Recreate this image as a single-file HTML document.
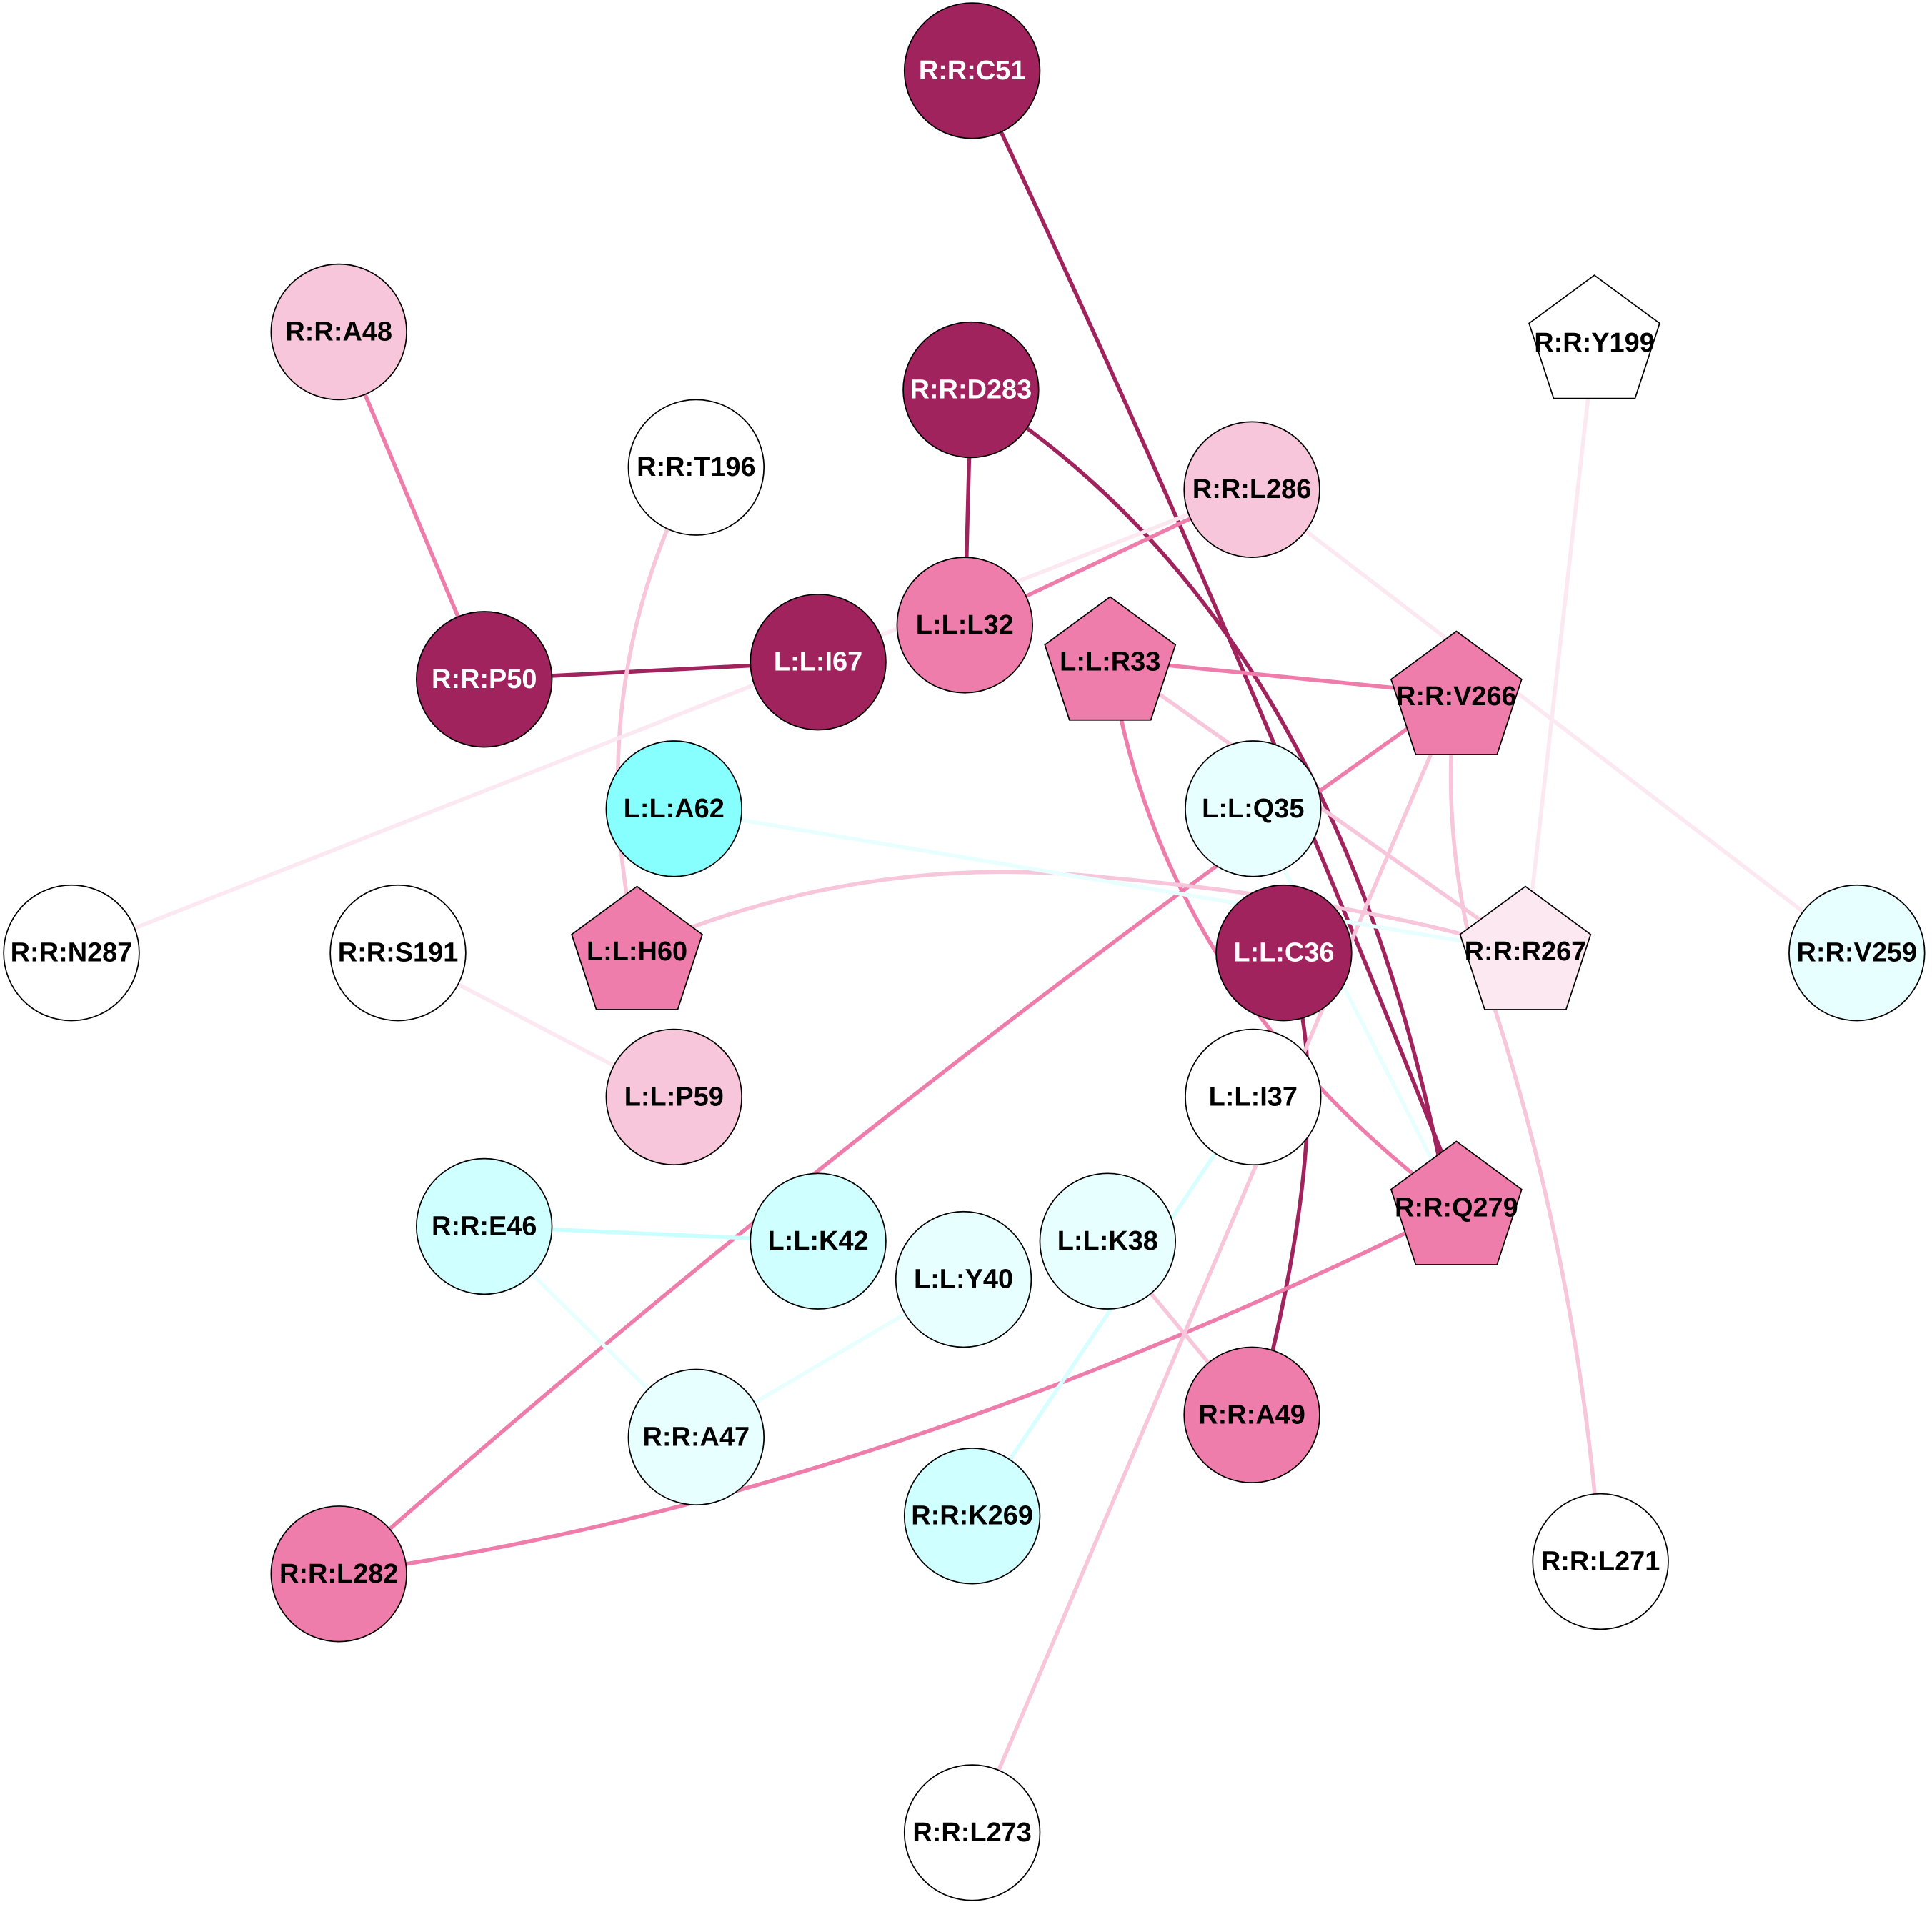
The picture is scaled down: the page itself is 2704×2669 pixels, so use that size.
<!DOCTYPE html>
<html><head><meta charset="utf-8">
<style>
html,body{margin:0;padding:0;background:#fff;}
svg{display:block;}
text{font-family:"Liberation Sans",Arial,sans-serif;font-weight:bold;font-size:22px;text-anchor:middle;dominant-baseline:central;}
</style></head><body>
<svg width="2704" height="2669" viewBox="0 0 1568 1547" xmlns="http://www.w3.org/2000/svg">
<g fill="none" stroke-width="3.2">
<path d="M789,57 Q990,480 1176,950" stroke="#A0235D"/>
<path d="M788,316 Q1080,500 1170,950" stroke="#A0235D"/>
<path d="M788,316 L783,507" stroke="#A0235D"/>
<path d="M393,551 L664,537" stroke="#A0235D"/>
<path d="M1042,773 Q1090,880 1020,1148" stroke="#A0235D"/>
<path d="M275,269 L393,551" stroke="#EF7DAC"/>
<path d="M1016,397 L783,507" stroke="#EF7DAC"/>
<path d="M901,535 L1182,563" stroke="#EF7DAC"/>
<path d="M901,535 Q940,800 1182,980" stroke="#EF7DAC"/>
<path d="M1182,563 Q700,900 275,1277" stroke="#EF7DAC"/>
<path d="M1182,980 Q700,1220 275,1277" stroke="#EF7DAC"/>
<path d="M1182,563 L789,1487" stroke="#F7C6DB"/>
<path d="M1182,563 Q1170,650 1190,750 Q1280,1000 1299,1267" stroke="#F7C6DB"/>
<path d="M901,535 L1238,772" stroke="#F7C6DB"/>
<path d="M517,770 Q700,690 900,712 Q1100,730 1238,772" stroke="#F7C6DB"/>
<path d="M565,379 Q470,560 517,770" stroke="#F7C6DB"/>
<path d="M1016,397 L58,773" stroke="#FBE8F0"/>
<path d="M1016,397 L1507,773" stroke="#FBE8F0"/>
<path d="M1294,278 L1238,772" stroke="#FBE8F0"/>
<path d="M323,773 L547,890" stroke="#FBE8F0"/>
<path d="M899,1007 L1016,1148" stroke="#F7C6DB"/>
<path d="M547,656 L1238,772" stroke="#E8FFFF"/>
<path d="M1017,656 L1182,980" stroke="#E8FFFF"/>
<path d="M393,995 L664,1007" stroke="#C8FFFF"/>
<path d="M393,995 L565,1166" stroke="#E8FFFF"/>
<path d="M782,1038 L565,1166" stroke="#E8FFFF"/>
<path d="M1017,890 L789,1230" stroke="#D8FFFF"/>
</g>
<g stroke="#000" stroke-width="1">
<circle cx="789" cy="57" r="55" fill="#A0235D"/>
<circle cx="275" cy="269" r="55" fill="#F7C6DB"/>
<polygon points="1294,223 1347,262 1327,323 1261,323 1241,262" fill="#fff"/>
<circle cx="788" cy="316" r="55" fill="#A0235D"/>
<circle cx="565" cy="379" r="55" fill="#fff"/>
<circle cx="1016" cy="397" r="55" fill="#F7C6DB"/>
<circle cx="783" cy="507" r="55" fill="#EF7DAC"/>
<circle cx="664" cy="537" r="55" fill="#A0235D"/>
<circle cx="393" cy="551" r="55" fill="#A0235D"/>
<polygon points="901,484 954,523 934,584 868,584 848,523" fill="#EF7DAC"/>
<polygon points="1182,512 1235,551 1215,612 1149,612 1129,551" fill="#EF7DAC"/>
<circle cx="547" cy="656" r="55" fill="#88FFFF"/>
<circle cx="1017" cy="656" r="55" fill="#E8FFFF"/>
<circle cx="58" cy="773" r="55" fill="#fff"/>
<circle cx="323" cy="773" r="55" fill="#fff"/>
<polygon points="517,719 570,758 550,819 484,819 464,758" fill="#EF7DAC"/>
<circle cx="1042" cy="773" r="55" fill="#A0235D"/>
<polygon points="1238,719 1291,758 1271,819 1205,819 1185,758" fill="#FBE8F0"/>
<circle cx="1507" cy="773" r="55" fill="#E8FFFF"/>
<circle cx="547" cy="890" r="55" fill="#F7C6DB"/>
<circle cx="1017" cy="890" r="55" fill="#fff"/>
<polygon points="1182,926 1235,965 1215,1026 1149,1026 1129,965" fill="#EF7DAC"/>
<circle cx="393" cy="995" r="55" fill="#D0FFFF"/>
<circle cx="664" cy="1007" r="55" fill="#D0FFFF"/>
<circle cx="782" cy="1038" r="55" fill="#E8FFFF"/>
<circle cx="899" cy="1007" r="55" fill="#E8FFFF"/>
<circle cx="1016" cy="1148" r="55" fill="#EF7DAC"/>
<circle cx="565" cy="1166" r="55" fill="#E8FFFF"/>
<circle cx="789" cy="1230" r="55" fill="#D0FFFF"/>
<circle cx="275" cy="1277" r="55" fill="#EF7DAC"/>
<circle cx="1299" cy="1267" r="55" fill="#fff"/>
<circle cx="789" cy="1487" r="55" fill="#fff"/>
</g>
<g fill="#000">
<text x="789" y="57" fill="#fff">R:R:C51</text>
<text x="275" y="269">R:R:A48</text>
<text x="1294" y="278">R:R:Y199</text>
<text x="788" y="316" fill="#fff">R:R:D283</text>
<text x="565" y="379">R:R:T196</text>
<text x="1016" y="397">R:R:L286</text>
<text x="783" y="507">L:L:L32</text>
<text x="664" y="537" fill="#fff">L:L:I67</text>
<text x="393" y="551" fill="#fff">R:R:P50</text>
<text x="901" y="537">L:L:R33</text>
<text x="1182" y="565">R:R:V266</text>
<text x="547" y="656">L:L:A62</text>
<text x="1017" y="656">L:L:Q35</text>
<text x="58" y="773">R:R:N287</text>
<text x="323" y="773">R:R:S191</text>
<text x="517" y="772">L:L:H60</text>
<text x="1042" y="773" fill="#fff">L:L:C36</text>
<text x="1238" y="772">R:R:R267</text>
<text x="1507" y="773">R:R:V259</text>
<text x="547" y="890">L:L:P59</text>
<text x="1017" y="890">L:L:I37</text>
<text x="1182" y="980">R:R:Q279</text>
<text x="393" y="995">R:R:E46</text>
<text x="664" y="1007">L:L:K42</text>
<text x="782" y="1038">L:L:Y40</text>
<text x="899" y="1007">L:L:K38</text>
<text x="1016" y="1148">R:R:A49</text>
<text x="565" y="1166">R:R:A47</text>
<text x="789" y="1230">R:R:K269</text>
<text x="275" y="1277">R:R:L282</text>
<text x="1299" y="1267">R:R:L271</text>
<text x="789" y="1487">R:R:L273</text>
</g>
</svg>
</body></html>
